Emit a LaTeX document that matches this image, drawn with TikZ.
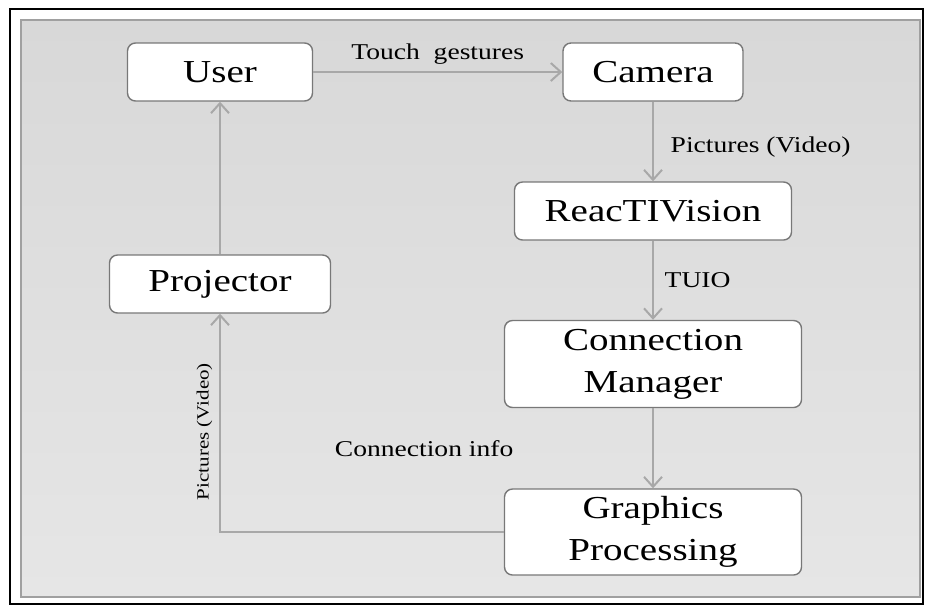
\documentclass[tikz,border=0pt]{standalone}
\usepackage{fontspec}
\setmainfont{Liberation Serif}[FakeStretch=1.22]
\usetikzlibrary{arrows.meta}
\definecolor{framegray}{RGB}{160,160,160}
\definecolor{bgtop}{RGB}{216,216,216}
\definecolor{bgmid}{RGB}{178,178,178}
\definecolor{bgbot}{RGB}{230,230,230}
\definecolor{linegray}{RGB}{168,168,168}
\definecolor{boxgray}{RGB}{120,120,120}
\tikzset{
  block/.style={rectangle,rounded corners=4pt,draw=boxgray,line width=0.7pt,fill=white,
    inner sep=0pt,align=center,font=\fontsize{16}{21}\selectfont},
  flow/.style={draw=linegray,line width=1pt,-{Straight Barb[length=5pt,width=9pt]}},
  lbl/.style={font=\fontsize{11.3}{14}\selectfont}
}
\begin{document}
\begin{tikzpicture}[x=0.5pt,y=-0.5pt]
            \useasboundingbox (0,0) rectangle (925,607);
            \draw[line width=1.2pt] (10,9) rectangle (923,604);
            \draw[framegray,line width=0.8pt,top color=bgtop,middle color=bgmid,bottom color=bgbot]
              (21,20) rectangle (920,597);

            \path (220,72) node[block,minimum width=92.5pt,minimum height=29pt] (user) {User};
            \path (653,72) node[block,minimum width=90pt,minimum height=29pt] (camera) {Camera};
            \path (653,211) node[block,minimum width=138.5pt,minimum height=29pt] (reactivision) {ReacTIVision};
            \path (220,284) node[block,minimum width=110.5pt,minimum height=29pt] (projector) {Projector};
            \path (653,364) node[block,minimum width=148.5pt,minimum height=43.5pt] (manager) {Connection\\Manager};
            \path (653,532) node[block,minimum width=148.5pt,minimum height=43pt] (graphics) {Graphics\\Processing};

            \begin{scope}[every node/.append style={lbl}]
              \draw[flow] (user) -- node[above]{Touch\ \ gestures} (camera);
              \draw[flow] (camera) -- node[right=5pt,yshift=-3pt]{Pictures (Video)} (reactivision);
              \draw[flow] (reactivision) -- node[right=2pt]{TUIO} (manager);
              \draw[flow] (manager) -- node[left=66pt]{Connection info} (graphics);
              \draw[flow] (graphics.west) -| node[pos=0.73,anchor=south,rotate=90,font=\fontsize{8.6}{11}\selectfont]{Pictures (Video)} (projector.south);
              \draw[flow] (projector) -- (user);
            \end{scope}
          \end{tikzpicture}
\end{document}
